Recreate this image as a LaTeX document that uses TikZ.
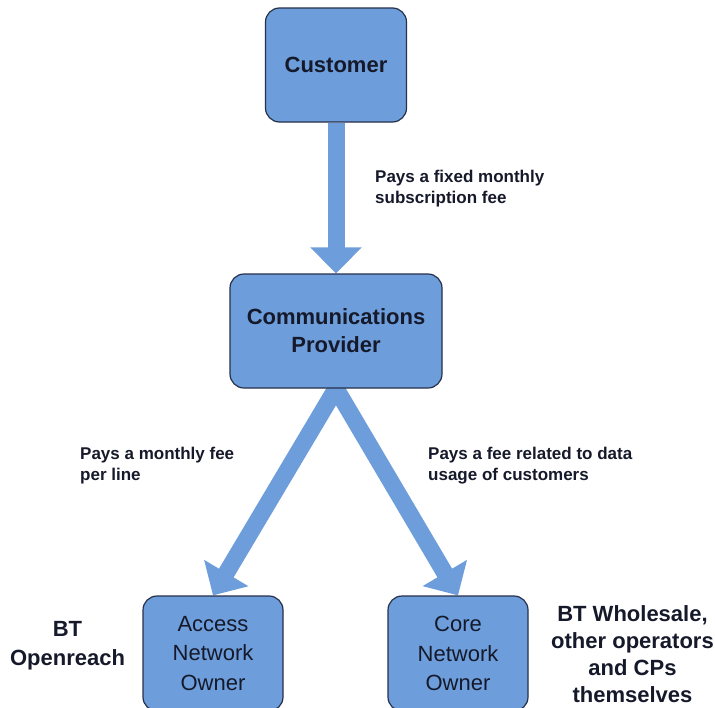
\documentclass[tikz,border=0pt]{standalone}
\usepackage{fontspec}
\setmainfont{Liberation Sans}
\usepackage{tikz}
\usepackage{xcolor}
\usetikzlibrary{arrows.meta, backgrounds}

\definecolor{boxblue}{HTML}{6D9EDB}
\definecolor{boxline}{HTML}{27304A}
\definecolor{inktext}{HTML}{15192A}

\tikzset{
    party/.style={draw=boxline, fill=boxblue, line width=1.2pt, rounded corners=14pt, align=center, text=inktext, inner sep=0pt},
    payment/.style={draw=boxblue, line width=17pt, -{Triangle[width=50pt, length=26pt]}},
    note/.style={anchor=north west, align=left, inner sep=0pt, text=inktext, font=\fontsize{17}{21}\selectfont\bfseries},
    owner/.style={anchor=north, align=center, inner sep=0pt, text=inktext}
}

\begin{document}
\begin{tikzpicture}[x=1pt, y=-1pt]
        \useasboundingbox (0, 0) rectangle (715, 707);

        \node[party, minimum width=141pt, minimum height=114pt, font=\fontsize{22}{28}\selectfont\bfseries] (cust) at (336, 65) {Customer};
        \node[party, minimum width=212pt, minimum height=114pt, font=\fontsize{22}{28}\selectfont\bfseries] (cp) at (336, 331) {Communications\\Provider};
        \node[party, minimum width=140pt, minimum height=115pt, font=\fontsize{22}{29.5}\selectfont] (acc) at (213, 653.5) {Access\\Network\\Owner};
        \node[party, minimum width=140pt, minimum height=115pt, font=\fontsize{22}{29.5}\selectfont] (core) at (458, 653.5) {Core\\Network\\Owner};

        \node[note] (fixedfee) at (375, 170) {Pays a fixed monthly\\subscription fee};
        \node[note] (linefee) at (80, 447) {Pays a monthly fee\\per line};
        \node[note] (datafee) at (428, 447) {Pays a fee related to data\\usage of customers};

        \node[owner, font=\fontsize{22}{29}\selectfont\bfseries] (openreach) at (67.5, 621) {BT\\Openreach};
        \node[owner, font=\fontsize{22}{27}\selectfont\bfseries] (wholesale) at (632.5, 605) {BT Wholesale,\\other operators\\and CPs\\themselves};

        \begin{scope}[on background layer]
            \draw[payment] (cust.south) to (cp.north);
            \draw[payment, shorten <=-12pt] (cp.south) to (acc.north);
            \draw[payment, shorten <=-12pt] (cp.south) to (core.north);
        \end{scope}
    \end{tikzpicture}
\end{document}
